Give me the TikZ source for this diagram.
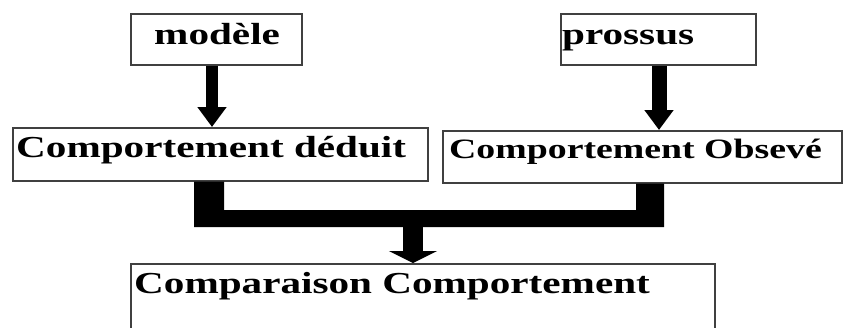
\documentclass[tikz,border=0pt]{standalone}
\usepackage{fontspec}
\setmainfont{Liberation Serif}[FakeStretch=1.35]
\usetikzlibrary{arrows.meta}
\tikzset{
  box/.style={draw=black!75, line width=1.6pt, anchor=north west, inner sep=0pt},
  lbl/.style={anchor=base west, inner sep=0pt, font=\fontsize{30.5}{32}\selectfont\bfseries},
  lblsmall/.style={anchor=base west, inner sep=0pt, font=\fontsize{28}{30}\selectfont\bfseries},
  arrowA/.style={line width=12pt, -{Triangle[width=28pt,length=20pt]}},
  arrowB/.style={line width=15pt, -{Triangle[width=28pt,length=20pt]}},
  arrowC/.style={line width=20pt, -{Triangle[width=48pt,length=12pt]}},
}
\begin{document}
\begin{tikzpicture}[x=1pt,y=-1pt]
\useasboundingbox (0,0) rectangle (843,327);
% boxes
\node[box, minimum width=171pt, minimum height=51pt] (modele) at (130,13) {};
\node[box, minimum width=195pt, minimum height=51pt] (prossus) at (560,13) {};
\node[box, minimum width=415pt, minimum height=53pt] (deduit) at (12,127) {};
\node[box, minimum width=399pt, minimum height=52pt] (observe) at (442,130) {};
\node[box, minimum width=584pt, minimum height=80pt] (comp) at (130,263) {};
% texts
\node[lbl] (t1) at (154,44) {modèle};
\node[lbl] (t2) at (562,44) {prossus};
\node[lbl] (t3) at (16,157) {Comportement déduit};
\node[lblsmall] (t4) at (449,158) {Comportement Obsevé};
\node[lbl] (t5) at (134,293) {Comparaison Comportement};
% arrows
\draw[arrowA] (212,0 |- modele.south) -- (212,0 |- deduit.north);
\draw[arrowB] (659,0 |- prossus.south) -- (659,0 |- observe.north);
% bracket
\fill[black] (194,0 |- deduit.south) -- (224,0 |- deduit.south) -- (224,210) -- (636,210)
  -- (636,0 |- observe.south) -- (664,0 |- observe.south) -- (664,227) -- (194,227) -- cycle;
\coordinate (merge) at (413,226);
\draw[arrowC] (merge) -- (413,0 |- comp.north);
\end{tikzpicture}
\end{document}
